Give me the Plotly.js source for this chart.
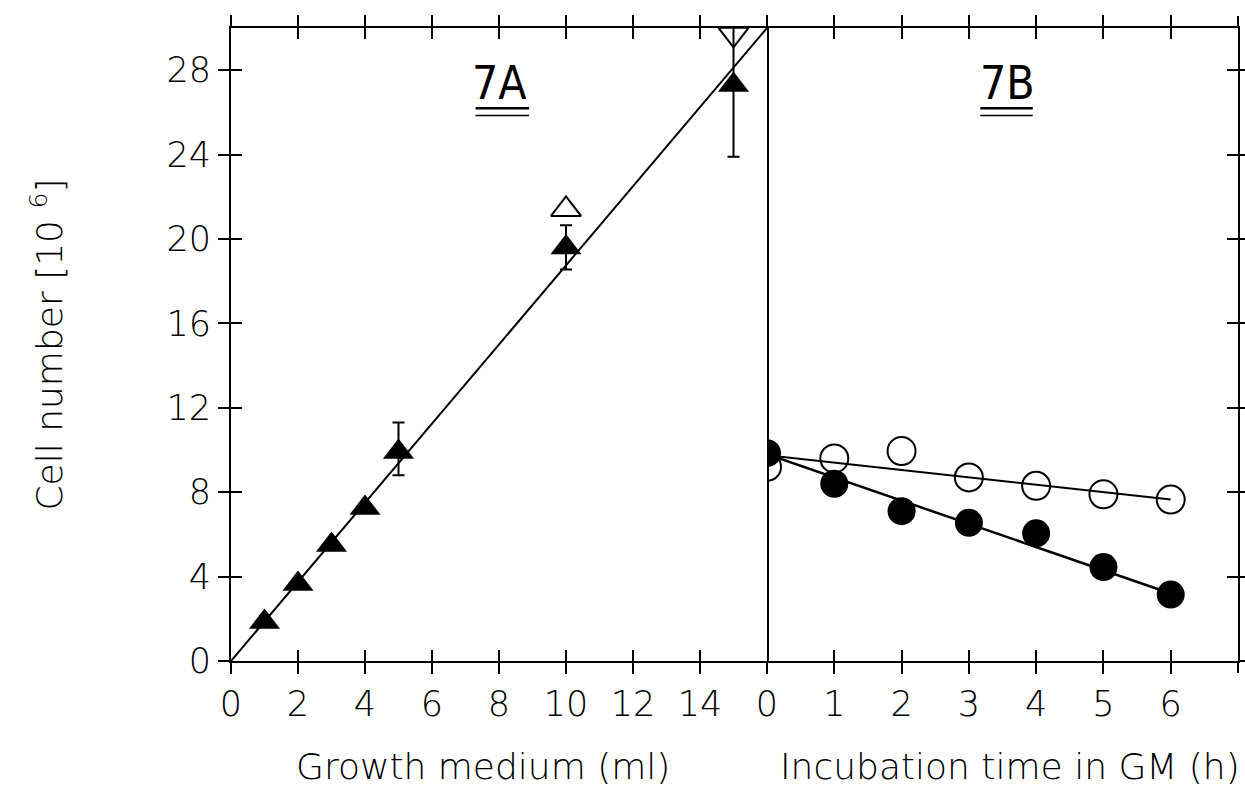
<!DOCTYPE html>
<html>
<head>
<meta charset="utf-8">
<script src="https://cdn.plot.ly/plotly-3.0.1.min.js"></script>
<style>html,body{margin:0;padding:0;background:#fff;}#chart{width:1245px;height:795px;}</style>
</head>
<body>
<div id="chart"></div>
<script>
// ---- Panel 7A: cell number vs growth medium volume ----
const mediumMl = [1, 2, 3, 4, 5, 10, 15];
const cellsFilledA = [1.85, 3.65, 5.5, 7.25, 9.9, 19.6, 27.3];
const errPlusA = [0, 0, 0, 0, 1.4, 1.05, 3.4];
const errMinusA = [0, 0, 0, 0, 1.1, 1.05, 3.4];
const mediumOpenMl = [10, 15];
const cellsOpenA = [21.4, 29.7];
const fitA_x = [0, 16];
const fitA_y = [0, 30];

// ---- Panel 7B: cell number vs incubation time ----
const timeH = [0, 1, 2, 3, 4, 5, 6];
const cellsOpenB = [9.2, 9.6, 9.95, 8.7, 8.3, 7.9, 7.65];
const cellsFilledB = [9.85, 8.4, 7.1, 6.55, 6.05, 4.45, 3.15];
const fitOpenB_x = [0, 6];
const fitOpenB_y = [9.75, 7.65];
const fitFilledB_x = [0, 6];
const fitFilledB_y = [9.8, 3.2];

// tick labels
const xTicksA = [0, 2, 4, 6, 8, 10, 12, 14];
const xTicksAAll = [0, 2, 4, 6, 8, 10, 12, 14, 16];
const xTicksB = [0, 1, 2, 3, 4, 5, 6];
const xTicksBAll = [0, 1, 2, 3, 4, 5, 6, 7];
const xTicksBEnd = [7];
const yTicks = [0, 4, 8, 12, 16, 20, 24, 28];

const INK = '#000';
const FONT = 'DejaVu Sans, Noto Sans, sans-serif';
const split = (767 - 231) / (1245 - 231 - 7);

const traces = [
  {x: fitA_x, y: fitA_y, xaxis: 'x', yaxis: 'y', mode: 'lines', line: {color: INK, width: 2}, hoverinfo: 'skip'},
  {x: mediumMl, y: cellsFilledA, xaxis: 'x', yaxis: 'y', mode: 'markers',
   marker: {symbol: 'triangle-up', size: 27, color: INK},
   error_y: {type: 'data', symmetric: false, array: errPlusA, arrayminus: errMinusA, color: INK, thickness: 2, width: 6}},
  {x: mediumOpenMl, y: cellsOpenA, xaxis: 'x', yaxis: 'y', mode: 'markers', cliponaxis: false,
   marker: {symbol: ['triangle-up-open', 'triangle-down-open'], size: 26, color: INK, line: {width: 2, color: INK}}},
  {x: fitOpenB_x, y: fitOpenB_y, xaxis: 'x2', yaxis: 'y2', mode: 'lines', line: {color: INK, width: 2}, hoverinfo: 'skip'},
  {x: fitFilledB_x, y: fitFilledB_y, xaxis: 'x2', yaxis: 'y2', mode: 'lines', line: {color: INK, width: 2.5}, hoverinfo: 'skip'},
  {x: timeH, y: cellsOpenB, xaxis: 'x2', yaxis: 'y2', mode: 'markers',
   marker: {symbol: 'circle-open', size: 28, color: INK, line: {width: 2, color: INK}}},
  {x: timeH, y: cellsFilledB, xaxis: 'x2', yaxis: 'y2', mode: 'markers',
   marker: {symbol: 'circle', size: 28, color: INK}},
  // dummy traces carrying the extra tick-only axes (crossing ticks)
  {x: [null], y: [null], xaxis: 'x3', yaxis: 'y3', mode: 'markers', hoverinfo: 'skip'},
  {x: [null], y: [null], xaxis: 'x4', yaxis: 'y4', mode: 'markers', hoverinfo: 'skip'},
  {x: [null], y: [null], xaxis: 'x5', yaxis: 'y4', mode: 'markers', hoverinfo: 'skip'}
];

const tickFont = {family: FONT, size: 35, color: INK, weight: 200};
const titleFont = {family: FONT, size: 36, color: INK, weight: 200};
const common = {showgrid: false, zeroline: false, linecolor: INK, linewidth: 2, tickcolor: INK, tickwidth: 2, ticklen: 11, tickmode: 'array', fixedrange: true};

const layout = {
  width: 1245, height: 795,
  paper_bgcolor: '#fff', plot_bgcolor: '#fff',
  showlegend: false,
  margin: {l: 231, r: 7, t: 28, b: 134},
  font: {family: FONT, color: INK},
  xaxis: Object.assign({}, common, {domain: [0, split], range: [0, 16], anchor: 'y', showline: true, mirror: 'ticks', ticks: 'outside',
    tickvals: xTicksA, tickfont: tickFont}),
  xaxis3: Object.assign({}, common, {overlaying: 'x', range: [0, 16], anchor: 'y3', showline: false, mirror: 'ticks', ticks: 'inside',
    tickvals: xTicksAAll, showticklabels: false}),
  xaxis2: Object.assign({}, common, {domain: [split, 1], range: [0, 7], anchor: 'y2', showline: true, mirror: 'ticks', ticks: 'outside',
    tickvals: xTicksB, tickfont: tickFont}),
  xaxis4: Object.assign({}, common, {overlaying: 'x2', range: [0, 7], anchor: 'y4', showline: false, mirror: 'ticks', ticks: 'inside',
    tickvals: xTicksBAll, showticklabels: false}),
  xaxis5: Object.assign({}, common, {overlaying: 'x2', range: [0, 7], anchor: 'y4', showline: false, mirror: 'ticks', ticks: 'outside',
    tickvals: xTicksBEnd, showticklabels: false}),
  yaxis: Object.assign({}, common, {range: [0, 30], anchor: 'x', showline: true, mirror: true, ticks: 'outside',
    tickvals: yTicks, tickfont: tickFont,
    title: {text: 'Cell number [10 <sup>6</sup>]', font: {family: FONT, size: 36, color: INK, weight: 200}, standoff: 93}}),
  yaxis3: Object.assign({}, common, {overlaying: 'y', range: [0, 30], anchor: 'x3', showline: false, ticks: 'inside',
    tickvals: yTicks, showticklabels: false}),
  yaxis2: Object.assign({}, common, {range: [0, 30], anchor: 'x2', side: 'right', showline: true, mirror: false, ticks: 'outside',
    tickvals: yTicks, showticklabels: false}),
  yaxis4: Object.assign({}, common, {overlaying: 'y2', range: [0, 30], anchor: 'x4', side: 'right', showline: false, ticks: 'inside',
    tickvals: yTicks, showticklabels: false}),
  annotations: [
    {text: 'Growth medium (ml)', xref: 'paper', yref: 'paper', x: 0.2502, y: -0.166, xanchor: 'center', yanchor: 'middle',
     showarrow: false, font: titleFont},
    {text: 'Incubation time in GM (h)', xref: 'paper', yref: 'paper', x: 0.7736, y: -0.166, xanchor: 'center', yanchor: 'middle',
     showarrow: false, font: titleFont},
    {text: '7A', xref: 'x', yref: 'y', x: 8, y: 27.4, showarrow: false, yanchor: 'middle',
     font: {family: 'DejaVu Sans Condensed, Liberation Sans Narrow, sans-serif', size: 46, color: INK}},
    {text: '7B', xref: 'x2', yref: 'y2', x: 3.57, y: 27.4, showarrow: false, yanchor: 'middle',
     font: {family: 'DejaVu Sans Condensed, Liberation Sans Narrow, sans-serif', size: 46, color: INK}}
  ],
  shapes: [
    {type: 'line', xref: 'x', yref: 'y', x0: 7.3, x1: 8.9, y0: 26.2, y1: 26.2, line: {color: INK, width: 2.5}},
    {type: 'line', xref: 'x', yref: 'y', x0: 7.3, x1: 8.9, y0: 25.85, y1: 25.85, line: {color: INK, width: 1.5}},
    {type: 'line', xref: 'x2', yref: 'y2', x0: 3.17, x1: 3.95, y0: 26.2, y1: 26.2, line: {color: INK, width: 2.5}},
    {type: 'line', xref: 'x2', yref: 'y2', x0: 3.17, x1: 3.95, y0: 25.85, y1: 25.85, line: {color: INK, width: 1.5}}
  ]
};

Plotly.newPlot('chart', traces, layout, {staticPlot: true, displayModeBar: false});
</script>
</body>
</html>
